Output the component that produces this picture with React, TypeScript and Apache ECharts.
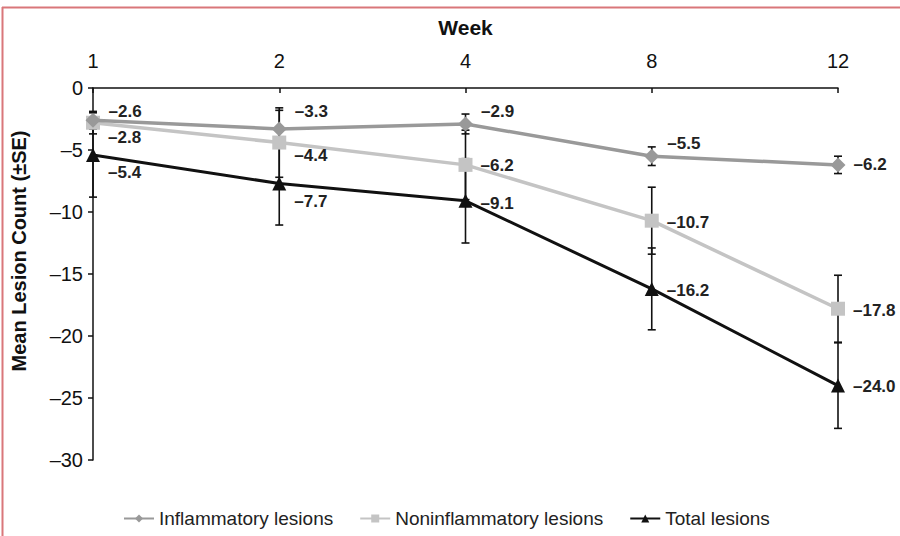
import React, { useEffect, useRef } from "react";
import * as echarts from "echarts";

const weeks = ["1", "2", "4", "8", "12"];
const inflammatory = [-2.6, -3.3, -2.9, -5.5, -6.2];
const inflammatorySE = [0.7, 1.5, 0.8, 0.75, 0.7];
const noninflammatory = [-2.8, -4.4, -6.2, -10.7, -17.8];
const noninflammatorySE = [0.9, 2.8, 2.8, 2.7, 2.7];
const total = [-5.4, -7.7, -9.1, -16.2, -24.0];
const totalSE = [3.4, 3.35, 3.4, 3.3, 3.45];

// label vertical offsets (styling)
const inflLabelDy = [-9, -17, -12, -13, 0];
const nonLabelDy = [15, 13, 1, 2, 2];
const totLabelDy = [18, 18, 3, 2, 1];

const FONT = "Liberation Sans, Arial, sans-serif";
const fmt = (v: number) => (v < 0 ? "\u2013" : "") + Math.abs(v).toFixed(1);

function errData(vals: number[], se: number[]) {
  return vals.map((v, i) => [i, v - se[i], v + se[i]]);
}

function errSeries(vals: number[], se: number[], name: string) {
  return {
    type: "custom",
    name: name + " SE",
    z: 1,
    silent: true,
    data: errData(vals, se),
    encode: { x: 0, y: [1, 2] },
    renderItem: (params: any, api: any) => {
      const x = api.value(0);
      const lo = api.coord([x, api.value(1)]);
      const hi = api.coord([x, api.value(2)]);
      const w = 4;
      const style = { stroke: "#111", lineWidth: 1.6 };
      return {
        type: "group",
        children: [
          { type: "line", shape: { x1: lo[0], y1: lo[1], x2: hi[0], y2: hi[1] }, style },
          { type: "line", shape: { x1: lo[0] - w, y1: lo[1], x2: lo[0] + w, y2: lo[1] }, style },
          { type: "line", shape: { x1: hi[0] - w, y1: hi[1], x2: hi[0] + w, y2: hi[1] }, style },
        ],
      };
    },
  };
}

function lineSeries(
  name: string,
  vals: number[],
  color: string,
  symbol: string,
  size: number,
  width: number,
  dys: number[],
  z: number
) {
  return {
    type: "line",
    name,
    z,
    data: vals.map((v, i) => ({
      value: v,
      label: { offset: [0, dys[i]] },
    })),
    symbol,
    symbolSize: size,
    showAllSymbol: true,
    itemStyle: { color },
    lineStyle: { color, width },
    label: {
      show: true,
      position: "right",
      distance: 8,
      formatter: (p: any) => fmt(p.value),
      fontFamily: FONT,
      fontWeight: "bold",
      fontSize: 17,
      color: "#222",
    },
  };
}

export default function App() {
  const ref = useRef<HTMLDivElement>(null);
  useEffect(() => {
    if (!ref.current) return;
    const chart = echarts.init(ref.current, null, { renderer: "svg" });
    chart.setOption({
      animation: false,
      backgroundColor: "#fff",
      grid: { left: 93, right: 62, top: 88, bottom: 76 },
      graphic: [
        {
          type: "line",
          shape: { x1: 2, y1: 7.5, x2: 900, y2: 7.5 },
          style: { stroke: "#d9777a", lineWidth: 2 },
        },
        {
          type: "line",
          shape: { x1: 2.5, y1: 7, x2: 2.5, y2: 536 },
          style: { stroke: "#d9777a", lineWidth: 2 },
        },
        {
          type: "text",
          x: 19,
          y: 251,
          rotation: Math.PI / 2,
          style: {
            text: "Mean Lesion Count (\u00b1SE)",
            font: "bold 20px " + FONT,
            fill: "#111",
            align: "center",
            verticalAlign: "middle",
          },
        },
      ],
      legend: {
        bottom: 3,
        left: 118,
        itemWidth: 30,
        itemHeight: 10,
        itemGap: 26,
        textStyle: { fontFamily: FONT, fontSize: 19, color: "#222" },
        data: ["Inflammatory lesions", "Noninflammatory lesions", "Total lesions"],
      },
      xAxis: {
        type: "category",
        position: "top",
        data: weeks,
        boundaryGap: false,
        name: "Week",
        nameLocation: "middle",
        nameGap: 50,
        nameTextStyle: { fontFamily: FONT, fontWeight: "bold", fontSize: 21, color: "#111" },
        axisLine: { lineStyle: { color: "#111", width: 1.5 } },
        axisTick: { inside: true, length: 5, lineStyle: { color: "#111", width: 1.5 } },
        axisLabel: { fontFamily: FONT, fontSize: 20, color: "#111", margin: 17 },
        splitLine: { show: false },
      },
      yAxis: {
        type: "value",
        min: -30,
        max: 0,
        interval: 5,
        axisLine: { show: true, lineStyle: { color: "#111", width: 1.5 } },
        axisTick: { show: true, length: 5, lineStyle: { color: "#111", width: 1.5 } },
        axisLabel: {
          fontFamily: FONT,
          fontSize: 20,
          color: "#111",
          margin: 10,
          formatter: (v: number) => (v < 0 ? "\u2013" : "") + Math.abs(v),
        },
        splitLine: { show: false },
      },
      series: [
        errSeries(inflammatory, inflammatorySE, "Inflammatory lesions"),
        errSeries(noninflammatory, noninflammatorySE, "Noninflammatory lesions"),
        errSeries(total, totalSE, "Total lesions"),
        lineSeries("Inflammatory lesions", inflammatory, "#999999", "diamond", 15, 3.5, inflLabelDy, 3),
        lineSeries("Noninflammatory lesions", noninflammatory, "#c4c4c4", "rect", 14, 3.5, nonLabelDy, 2),
        lineSeries("Total lesions", total, "#111111", "triangle", 14, 3, totLabelDy, 4),
      ],
    });
    return () => chart.dispose();
  }, []);
  return <div ref={ref} style={{ width: 900, height: 536, position: "absolute", left: 0, top: 0 }} />;
}
